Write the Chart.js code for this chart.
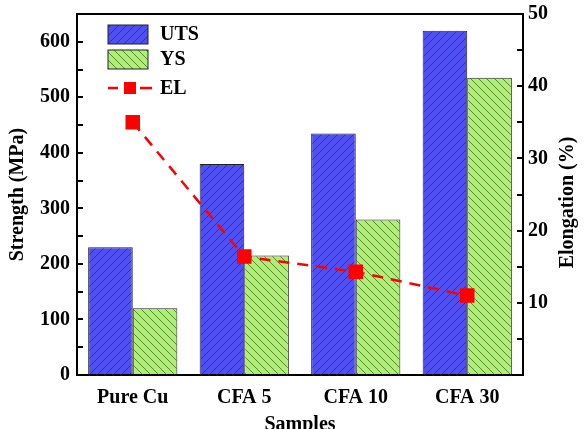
<!DOCTYPE html>
<html>
<head>
<meta charset="utf-8">
<script src="https://cdn.jsdelivr.net/npm/chart.js@4/dist/chart.umd.min.js"></script>
<style>
html, body { margin: 0; padding: 0; background: #fff; }
#wrap { width: 585px; height: 429px; }
</style>
</head>
<body>
<div id="wrap"><canvas id="mechChart" width="585" height="429"></canvas></div>
<script>
let samples = ['Pure Cu', 'CFA 5', 'CFA 10', 'CFA 30'];
let utsValues = [230, 380, 435, 620];
let ysValues = [120, 215, 280, 535];
let elValues = [35.0, 16.4, 14.3, 11.0];

const fontFam = "'Liberation Serif', 'Times New Roman', serif";

function hatch(bg, fg, forward) {
  let c = document.createElement('canvas');
  c.width = 8; c.height = 8;
  let g = c.getContext('2d');
  g.fillStyle = bg;
  g.fillRect(0, 0, 8, 8);
  g.strokeStyle = fg;
  g.lineWidth = 0.8;
  g.beginPath();
  if (forward) {
    g.moveTo(0, 8); g.lineTo(8, 0);
    g.moveTo(-1, 1); g.lineTo(1, -1);
    g.moveTo(7, 9); g.lineTo(9, 7);
  } else {
    g.moveTo(0, 0); g.lineTo(8, 8);
    g.moveTo(7, -1); g.lineTo(9, 1);
    g.moveTo(-1, 7); g.lineTo(1, 9);
  }
  g.stroke();
  return document.getElementById('mechChart').getContext('2d').createPattern(c, 'repeat');
}

let utsFill = hatch('#5050f2', '#2a2a80', true);
let ysFill = hatch('#aef073', '#4a6a2a', false);

// legend inside the plot (top-left), top frame line and right axis title
const innerLegend = {
  id: 'innerLegend',
  afterDraw(chart) {
    const ctx = chart.ctx;
    const a = chart.chartArea;
    let x = a.left + 31, y = a.top + 11;
    ctx.save();
    ctx.lineWidth = 1;
    ctx.strokeStyle = '#222';
    ctx.fillStyle = utsFill;
    ctx.fillRect(x, y, 40, 19); ctx.strokeRect(x, y, 40, 19);
    ctx.fillStyle = ysFill;
    ctx.fillRect(x, y + 25, 40, 19); ctx.strokeRect(x, y + 25, 40, 19);
    ctx.strokeStyle = '#ff0000';
    ctx.lineWidth = 2.5;
    ctx.beginPath();
    ctx.moveTo(x, y + 63); ctx.lineTo(x + 10, y + 63);
    ctx.moveTo(x + 32, y + 63); ctx.lineTo(x + 44, y + 63);
    ctx.stroke();
    ctx.fillStyle = '#ff0000';
    ctx.fillRect(x + 16, y + 57, 12, 12);
    ctx.fillStyle = '#000';
    ctx.font = 'bold 20px ' + fontFam;
    ctx.textBaseline = 'middle';
    ctx.fillText('UTS', x + 52, y + 10);
    ctx.fillText('YS', x + 52, y + 35);
    ctx.fillText('EL', x + 52, y + 64);

    ctx.strokeStyle = '#000';
    ctx.lineWidth = 2;
    ctx.beginPath();
    ctx.moveTo(a.left, a.top); ctx.lineTo(a.right, a.top);
    ctx.stroke();

    ctx.translate(568, (a.top + a.bottom) / 2 + 8);
    ctx.rotate(-Math.PI / 2);
    ctx.textAlign = 'center';
    ctx.fillText('Elongation (%)', 0, 0);
    ctx.restore();
  }
};

let ctx = document.getElementById('mechChart').getContext('2d');

let mechChart = new Chart(ctx, {
  data: {
    labels: samples,
    datasets: [
      {
        type: 'line',
        label: 'EL',
        data: elValues,
        yAxisID: 'yEl',
        borderColor: '#ff0000',
        borderWidth: 2.5,
        borderDash: [11, 8],
        pointStyle: 'rect',
        pointRadius: 8.5,
        pointBackgroundColor: '#ff0000',
        pointBorderColor: '#ff0000',
        tension: 0,
        order: 0
      },
      {
        type: 'bar',
        label: 'UTS',
        data: utsValues,
        yAxisID: 'y',
        backgroundColor: utsFill,
        borderColor: '#222',
        borderWidth: 1,
        categoryPercentage: 0.8,
        barPercentage: 1,
        order: 1
      },
      {
        type: 'bar',
        label: 'YS',
        data: ysValues,
        yAxisID: 'y',
        backgroundColor: ysFill,
        borderColor: '#222',
        borderWidth: 1,
        categoryPercentage: 0.8,
        barPercentage: 1,
        order: 1
      }
    ]
  },
  options: {
    responsive: false,
    animation: false,
    layout: { padding: { top: 14, left: 0, right: 0, bottom: 0 } },
    plugins: {
      legend: { display: false },
      tooltip: { enabled: false }
    },
    scales: {
      x: {
        grid: { display: false },
        border: { display: true, color: '#000', width: 2 },
        ticks: { color: '#000', font: { family: fontFam, size: 20, weight: 'bold' }, padding: 3 },
        title: { display: true, text: 'Samples', color: '#000', font: { family: fontFam, size: 20, weight: 'bold' }, padding: { top: 0, bottom: -8 } },
        afterFit(s) { s.height = 54; s.paddingLeft = 0; s.paddingRight = 0; }
      },
      y: {
        position: 'left',
        min: 0,
        max: 650,
        ticks: {
          stepSize: 50,
          color: '#000',
          font: { family: fontFam, size: 20, weight: 'bold' },
          padding: 13,
          callback: v => (v % 100 === 0 ? v : '')
        },
        grid: { drawOnChartArea: false, color: '#000', tickLength: -6, lineWidth: 2 },
        border: { display: true, color: '#000', width: 2 },
        title: { display: true, text: 'Strength (MPa)', color: '#000', font: { family: fontFam, size: 20, weight: 'bold' }, padding: { top: 6, bottom: 2 } },
        afterFit(s) { s.width = 77; s.paddingTop = 0; s.paddingBottom = 0; }
      },
      yEl: {
        position: 'right',
        min: 0,
        max: 50,
        ticks: {
          stepSize: 5,
          color: '#000',
          font: { family: fontFam, size: 20, weight: 'bold' },
          padding: 11,
          callback: v => (v % 10 === 0 && v > 0 ? v : '')
        },
        grid: { drawOnChartArea: false, color: '#000', tickLength: -6, lineWidth: 2 },
        border: { display: true, color: '#000', width: 2 },
        afterFit(s) { s.width = 62; s.paddingTop = 0; s.paddingBottom = 0; }
      }
    }
  },
  plugins: [innerLegend]
});
</script>
</body>
</html>
